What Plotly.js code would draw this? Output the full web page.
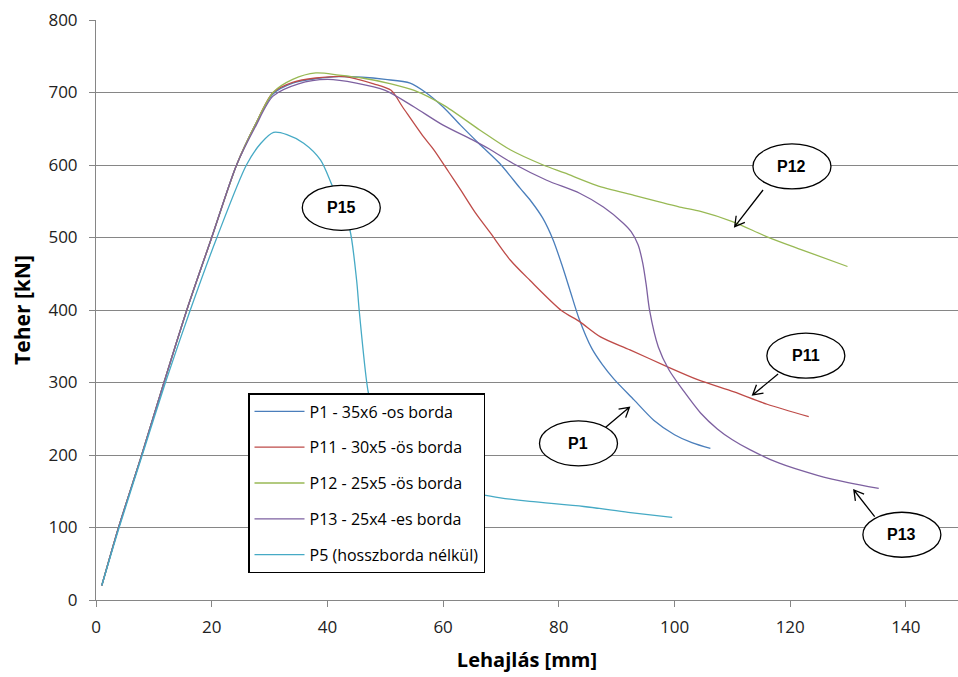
<!DOCTYPE html>
<html>
<head>
<meta charset="utf-8">
<script src="https://cdn.plot.ly/plotly-3.0.1.min.js"></script>
<style>html,body{margin:0;padding:0;background:#fff;}#chart{width:958px;height:677px;}</style>
</head>
<body>
<div id="chart"></div>
<script>
// ---- Data ----
const seriesNames = ["P1 - 35x6 -os borda", "P11 - 30x5 -ös borda", "P12 - 25x5 -ös borda", "P13 - 25x4 -es borda", "P5 (hosszborda nélkül)"];

const p1X = [1.0, 3.9, 7.9, 11.75, 15.7, 20.0, 24.3, 27.5, 30.6, 34, 38, 42, 46, 50, 54.3, 57, 60, 63, 66.4, 69.8, 73.3, 75.2, 77.2, 79.0, 80.5, 81.9, 83.5, 85.7, 87.5, 89.5, 93, 96.4, 100, 103, 106.2];
const p1Y = [20, 100, 200, 300, 400, 500, 600, 655, 698, 713, 719, 722, 721, 718, 713, 700, 680, 655, 628, 602, 568, 550, 527, 497, 463, 428, 388, 347, 325, 305, 276, 248, 228, 217, 209];

const p11X = [1.0, 3.9, 7.9, 11.75, 15.7, 20.0, 24.3, 27.5, 30.6, 34, 38, 43, 48, 51, 53, 56.6, 58.4, 61, 63, 65.5, 68.2, 71.6, 75, 80.5, 83.6, 87.2, 92.3, 98.7, 104, 110.3, 116, 123.2];
const p11Y = [20, 100, 200, 300, 400, 500, 600, 655, 700, 714, 720, 722, 712, 703, 680, 639, 621, 590, 566, 535, 506, 469, 441, 399, 384, 363, 345, 322, 304, 287, 270, 253];

const p12X = [1.0, 3.9, 7.9, 11.75, 15.7, 20.0, 24.3, 27.5, 30.6, 34, 38, 42, 46, 51, 55, 60, 66.4, 71.6, 77.3, 81, 86.5, 93, 100.9, 104.5, 110, 116, 122, 129.9];
const p12Y = [20, 100, 200, 300, 400, 500, 600, 655, 700, 718, 727, 724, 720, 712, 703, 683, 648, 621, 600, 589, 572, 558, 542, 536, 522, 501, 483, 460];

const p13X = [1.0, 3.9, 7.9, 11.75, 15.7, 20.0, 24.3, 27.5, 30.6, 35, 40, 45, 50, 55, 60, 65, 68, 72.1, 77.9, 83.6, 87.7, 91.1, 92.5, 93.7, 94.5, 95.1, 95.7, 97.2, 99, 101.6, 104.5, 107.4, 110, 113.1, 118, 124.7, 130, 135.3];
const p13Y = [20, 100, 200, 300, 400, 500, 600, 652, 695, 712, 718, 713, 703, 680, 655, 635, 622, 602, 579, 561, 542, 520, 508, 490, 465, 435, 399, 349, 318, 288, 258, 236, 221, 207, 189, 172, 162, 154];

const p5X = [1.0, 4.0, 8.0, 12.0, 16.3, 20.9, 26.0, 28.5, 30.7, 33, 35.9, 38.8, 40.8, 42.5, 43.9, 45.05, 45.5, 46.8, 47.1, 48.5, 50, 53, 57, 62, 66, 69.9, 75, 84.3, 92, 99.6];
const p5Y = [20, 100, 200, 300, 400, 500, 600, 630, 645, 642, 630, 607, 572, 540, 510, 441, 399, 300, 285, 240, 210, 185, 165, 152, 146, 141, 136, 129, 121, 114];

const seriesColors = ["#4A7EBB", "#BE4B48", "#98B954", "#7D60A0", "#46AAC5"];

// Callout labels: text, centre (data units), arrow tail and tip (data units)
const calloutText = ["P15", "P12", "P11", "P1", "P13"];
const calloutX = [42.4, 120.3, 122.7, 83.4, 139.3];
const calloutY = [541, 598, 337, 216, 90];
const arrowTailX = [null, 115.3, 117.9, 88.1, 134.6];
const arrowTailY = [null, 565.5, 311.7, 238.2, 114.9];
const arrowTipX = [null, 110.4, 113.5, 92.2, 131.0];
const arrowTipY = [null, 515, 282.8, 265.8, 151.7];

// ---- Layout geometry ----
const W = 958, H = 677;
const M = {l: 96, r: 0, t: 20, b: 77};
const xRange = [0, 149], yRange = [0, 800];
const pw = W - M.l - M.r, ph = H - M.t - M.b;
const sx = pw / (xRange[1] - xRange[0]);
const sy = ph / (yRange[1] - yRange[0]);

const xs = [p1X, p11X, p12X, p13X, p5X];
const ys = [p1Y, p11Y, p12Y, p13Y, p5Y];

const traces = seriesNames.map((n, i) => ({
  type: 'scatter', mode: 'lines', name: n,
  x: xs[i], y: ys[i],
  line: {color: seriesColors[i], width: 1.3, shape: 'spline', smoothing: 0.8},
  legendgroup: 'g' + i
}));

const shapes = [];
const annotations = [];
const ellW = 78, ellH = 45; // px
calloutText.forEach((t, i) => {
  const hw = ellW / 2 / sx, hh = ellH / 2 / sy;
  shapes.push({type: 'circle', xref: 'x', yref: 'y', layer: 'above',
    x0: calloutX[i] - hw, x1: calloutX[i] + hw, y0: calloutY[i] - hh, y1: calloutY[i] + hh,
    line: {color: '#000', width: 1.3}, fillcolor: '#fff'});
  annotations.push({x: calloutX[i], y: calloutY[i], xref: 'x', yref: 'y', text: '<b>' + t + '</b>',
    showarrow: false, font: {family: 'Liberation Sans, Arial, sans-serif', size: 16, color: '#000'}});
  if (arrowTailX[i] !== null) {
    // open V arrowhead computed in pixel space
    const tx = arrowTailX[i] * sx, ty = -arrowTailY[i] * sy;
    const hx = arrowTipX[i] * sx, hy = -arrowTipY[i] * sy;
    const ang = Math.atan2(hy - ty, hx - tx);
    const L = 11, a = Math.PI / 6;
    const b1 = [hx - L * Math.cos(ang - a), hy - L * Math.sin(ang - a)];
    const b2 = [hx - L * Math.cos(ang + a), hy - L * Math.sin(ang + a)];
    const d = (p) => (p[0] / sx).toFixed(3) + ',' + (-p[1] / sy).toFixed(3);
    shapes.push({type: 'path', xref: 'x', yref: 'y', layer: 'above',
      path: 'M' + d([tx, ty]) + ' L' + d([hx, hy]) + ' M' + d(b1) + ' L' + d([hx, hy]) + ' L' + d(b2),
      line: {color: '#000', width: 1.3}});
  }
});

const FONT = 'Open Sans, Lato, sans-serif';
const tickFont = {family: FONT, size: 17, color: '#222'};
const layout = {
  width: W, height: H,
  margin: M,
  paper_bgcolor: '#fff', plot_bgcolor: '#fff',
  showlegend: true,
  legend: {
    x: (248 - M.l) / pw, y: (600 - 393) / ph, xanchor: 'left', yanchor: 'top',
    bgcolor: '#fff', bordercolor: '#000', borderwidth: 1.5,
    font: {family: FONT, size: 16, color: '#000'},
    tracegroupgap: 12, traceorder: 'grouped', itemwidth: 50
  },
  xaxis: {
    range: xRange, dtick: 20, tick0: 0,
    showgrid: false, zeroline: false,
    showline: true, linecolor: '#868686', linewidth: 1,
    ticks: 'outside', ticklen: 6, tickcolor: '#868686',
    tickfont: tickFont, ticklabelstandoff: 6,
    title: {text: '<b>Lehajlás [mm]</b>', font: {family: FONT, size: 20, color: '#000'}, standoff: 15}
  },
  yaxis: {
    range: yRange, dtick: 100, tick0: 0,
    showgrid: true, gridcolor: '#868686', gridwidth: 1,
    zeroline: false,
    showline: true, linecolor: '#868686', linewidth: 1,
    ticks: 'outside', ticklen: 6, tickcolor: '#868686',
    tickfont: tickFont, ticklabelstandoff: 8,
    title: {text: '<b>Teher [kN]</b>', font: {family: FONT, size: 21, color: '#000'}, standoff: 12}
  },
  shapes: shapes,
  annotations: annotations
};

Plotly.newPlot('chart', traces, layout, {displayModeBar: false, staticPlot: true});
</script>
</body>
</html>
